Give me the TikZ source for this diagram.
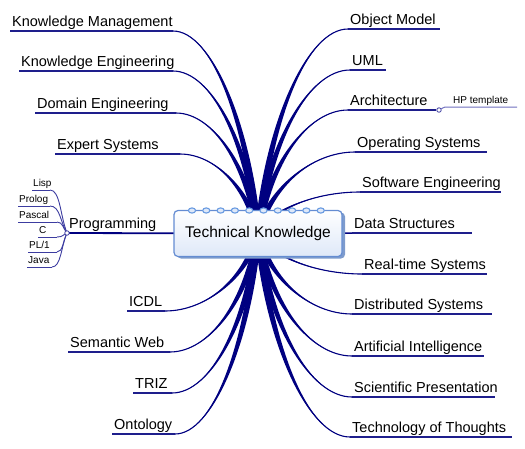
\documentclass[tikz,border=0pt]{standalone}
\usepackage{fontspec}
\setmainfont{Liberation Sans}
\usetikzlibrary{calc,shadows}

\definecolor{navy}{RGB}{0,0,128}
\definecolor{ulblue}{RGB}{30,30,140}
\definecolor{subblue}{RGB}{60,60,160}
\definecolor{hpblue}{RGB}{110,110,190}
\definecolor{boxblue}{RGB}{100,140,210}
\definecolor{boxfill}{RGB}{222,232,248}
\definecolor{shadeblue}{RGB}{125,155,205}
\definecolor{ringblue}{RGB}{105,155,225}

% tapered main branch from #1 to the hub
\newcommand{\trunk}[1]{%
\fill[navy] (#1) .. controls ($(#1)!.45!(tkc|-#1)$) and ($(tkc)!.5!(tkc|-#1)!.12!(#1)+(3,0)$) .. ($(tkc)+(3.5,0)$)
  -- ($(tkc)+(-3.5,0)$) .. controls ($(tkc)!.5!(tkc|-#1)!.12!(#1)+(-3,0)$) and ($(#1)!.45!(tkc|-#1)$) .. (#1) -- cycle;
\draw[navy, line width=1.1pt] (#1) .. controls ($(#1)!.45!(tkc|-#1)$) and ($(tkc)!.5!(tkc|-#1)!.12!(#1)$) .. (tkc);}
% thin branch from #1 to the small hub #2
\newcommand{\twig}[2]{%
\draw[subline] (#1) .. controls ($(#1)!.6!(#2|-#1)$) and ($(#2)!.4!(#1)$) .. (#2);}

\begin{document}
\begin{tikzpicture}[x=1pt,y=-1pt,
  topic/.style={anchor=south west, inner xsep=2pt, inner ysep=.5pt, text depth=3.5pt, font=\fontsize{14.5}{17}\selectfont},
  sub/.style={anchor=south west, inner xsep=1pt, inner ysep=.5pt, text depth=2.5pt, font=\fontsize{10}{12}\selectfont},
  uline/.style={ulblue, line width=1.2pt},
  subline/.style={subblue, line width=.9pt},
  hub/.style={circle, draw=subblue, fill=white, line width=.8pt, inner sep=0pt, minimum size=4.5pt},
  tkbox/.style={draw=boxblue, line width=1.2pt, rounded corners=4pt, top color=white, bottom color=boxfill,
    minimum width=168pt, minimum height=46pt, font=\fontsize{15.5}{18}\selectfont,
    drop shadow={shadow xshift=3pt, shadow yshift=-2pt, fill=shadeblue, opacity=1}},
  ring/.style={draw=ringblue, fill=boxfill, line width=1.1pt}]
\useasboundingbox (0,0) rectangle (525,448);
\coordinate (tkc) at (258,233.5);

% left side
\node[topic] (km) at (10,31) {Knowledge Management};
\coordinate (km-e) at (173,31);
\node[topic] (ke) at (19,71) {Knowledge Engineering};
\coordinate (ke-e) at (173,71);
\node[topic] (de) at (35,113) {Domain Engineering};
\coordinate (de-e) at (176,113);
\node[topic] (es) at (55,154) {Expert Systems};
\coordinate (es-e) at (180,154);
\node[topic] (icdl) at (127,311) {ICDL};
\coordinate (icdl-e) at (165,311);
\node[topic] (sw) at (68,352) {Semantic Web};
\coordinate (sw-e) at (170,352);
\node[topic] (triz) at (133,393) {TRIZ};
\coordinate (triz-e) at (172,393);
\node[topic] (ont) at (112,434) {Ontology};
\coordinate (ont-e) at (175,434);

% right side
\node[topic] (om) at (348,29) {Object Model};
\coordinate (om-e) at (440,29);
\node[topic] (uml) at (350,70) {UML};
\coordinate (uml-e) at (386,70);
\node[topic] (ar) at (348,110) {Architecture};
\node[topic] (os) at (355,152) {Operating Systems};
\coordinate (os-e) at (487,152);
\node[topic] (se) at (360,192) {Software Engineering};
\coordinate (se-e) at (501,192);
\node[topic] (ds) at (352,233) {Data Structures};
\coordinate (ds-e) at (472,233);
\node[topic] (rt) at (362,274) {Real-time Systems};
\coordinate (rt-e) at (487,274);
\node[topic] (dist) at (352,314) {Distributed Systems};
\coordinate (dist-e) at (492,314);
\node[topic] (ai) at (352,356) {Artificial Intelligence};
\coordinate (ai-e) at (484,356);
\node[topic] (sp) at (352,397) {Scientific Presentation};
\coordinate (sp-e) at (495,397);
\node[topic] (tot) at (350,437) {Technology of Thoughts};
\coordinate (tot-e) at (512,437);

% programming and its children
\node[topic] (pg) at (67,233) {Programming};
\node[sub] (li) at (32,190) {Lisp};
\coordinate (li-e) at (50,190);
\node[sub] (pr) at (18,206) {Prolog};
\coordinate (pr-e) at (50,206);
\node[sub] (pa) at (18,222) {Pascal};
\coordinate (pa-e) at (57,222);
\node[sub] (cc) at (38,237) {C};
\coordinate (cc-e) at (57,237);
\node[sub] (pl) at (28,252) {PL/1};
\coordinate (pl-e) at (57,252);
\node[sub] (ja) at (27,267) {Java};
\coordinate (ja-e) at (52,267);

% underlines
\foreach \n in {km,ke,de,es,icdl,sw,triz,ont,om,uml,os,se,ds,rt,dist,ai,sp,tot}
  \draw[uline] (\n.south west) -- (\n-e);
\foreach \n in {li,pr,pa,cc,pl,ja}
  \draw[subline] (\n.south west) -- (\n-e);

% branches
\foreach \n in {km-e,ke-e,de-e,es-e,icdl-e,sw-e,triz-e,ont-e}
  \trunk{\n};
\foreach \n in {om,uml,ar,os,se,rt,dist,ai,sp,tot}
  \trunk{\n.south west};
\draw[navy, line width=1.8pt] (pg.south west) -- (tkc);
\draw[navy, line width=1.5pt] (tkc) -- (ds.south west);

\foreach \n in {li-e,pr-e,pa-e,cc-e,pl-e,ja-e}
  \twig{\n}{pg.south west};
\node[hub] (pghub) at (pg.south west) {};

% architecture detail
\node[hub] (archub) at (439,110) {};
\draw[uline] (ar.south west) -- (archub);
\node[sub] (hp) at (452,107) {HP template};
\coordinate (hp-e) at (517,107);
\draw[hpblue, line width=1pt] (archub) .. controls (444,107) .. (hp.south west) -- (hp-e);

% central topic
\node[tkbox] (tk) at (tkc) {Technical Knowledge};
\foreach \i in {0,...,9}
  \draw[ring] (192+14.3*\i,210.5) ellipse[x radius=3.6pt, y radius=2.6pt];
\end{tikzpicture}
\end{document}
